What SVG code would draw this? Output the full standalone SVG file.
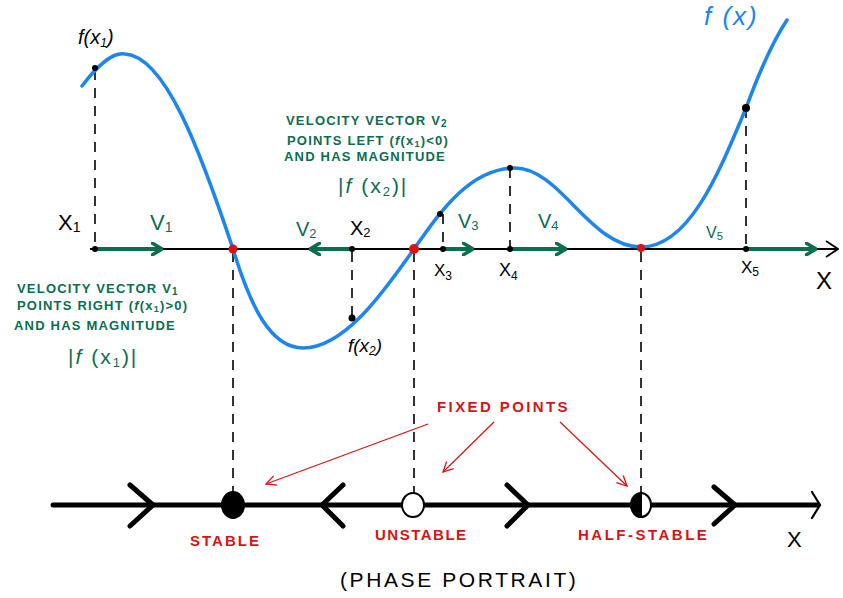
<svg xmlns="http://www.w3.org/2000/svg" width="843" height="598" viewBox="0 0 843 598">
<style>
text{font-family:"Liberation Sans",Arial,sans-serif}
.g{fill:#0b6e4f}
.gt{fill:#0b6e4f;font-size:13px;letter-spacing:1.2px;font-weight:bold}
.mag{fill:#0b6e4f;font-size:21px;letter-spacing:2px}
.k{fill:#000}
.r{fill:#d81414;font-size:15px;font-weight:bold}
.dash{stroke:#000;stroke-width:1.6;stroke-dasharray:10 8;fill:none}
.garr{stroke:#0b6e4f;stroke-width:4;fill:none}
.chev{stroke:#000;stroke-width:5;fill:none;stroke-linecap:round;stroke-linejoin:round}
.rarr{stroke:#d81414;stroke-width:1.2;fill:none}
</style>
<defs>
<marker id="gh" viewBox="0 0 12 14" refX="11" refY="7" markerWidth="12" markerHeight="14" markerUnits="userSpaceOnUse" orient="auto">
<path d="M1,1 L11,7 L1,13" fill="none" stroke="#0b6e4f" stroke-width="3.5" stroke-linecap="round"/>
</marker>
<marker id="rh" viewBox="0 0 12 12" refX="11" refY="6" markerWidth="12" markerHeight="12" markerUnits="userSpaceOnUse" orient="auto">
<path d="M1,1 L11,6 L1,11" fill="none" stroke="#d81414" stroke-width="1.3"/>
</marker>
<marker id="kh" viewBox="0 0 14 18" refX="13" refY="9" markerWidth="14" markerHeight="18" markerUnits="userSpaceOnUse" orient="auto">
<path d="M1,1 L13,9 L1,17" fill="none" stroke="#000" stroke-width="1.8"/>
</marker>
</defs>

<g id="connectors">
<!-- top axis -->
<line x1="90" y1="249" x2="838" y2="249" stroke="#000" stroke-width="2" marker-end="url(#kh)"/>
<!-- dashed projections -->
<line class="dash" x1="95" y1="70" x2="95" y2="249"/>
<line class="dash" x1="233" y1="252" x2="233" y2="495"/>
<line class="dash" x1="352" y1="252" x2="352" y2="318"/>
<line class="dash" x1="414" y1="252" x2="414" y2="495"/>
<line class="dash" x1="443" y1="214" x2="443" y2="249"/>
<line class="dash" x1="510" y1="168" x2="510" y2="249"/>
<line class="dash" x1="641" y1="252" x2="641" y2="495"/>
<line class="dash" x1="746" y1="108" x2="746" y2="249"/>
<!-- velocity arrows -->
<line class="garr" x1="95" y1="249" x2="162" y2="249" marker-end="url(#gh)"/>
<line class="garr" x1="352" y1="249" x2="310" y2="249" marker-end="url(#gh)"/>
<line class="garr" x1="443" y1="249" x2="473" y2="249" marker-end="url(#gh)"/>
<line class="garr" x1="510" y1="249" x2="566" y2="249" marker-end="url(#gh)"/>
<line class="garr" x1="746" y1="249" x2="816" y2="249" marker-end="url(#gh)"/>
<!-- fixed points pointers -->
<line class="rarr" x1="428" y1="424" x2="266" y2="484" marker-end="url(#rh)"/>
<line class="rarr" x1="494" y1="422" x2="443" y2="472" marker-end="url(#rh)"/>
<line class="rarr" x1="560" y1="422" x2="627" y2="486" marker-end="url(#rh)"/>
<!-- phase line -->
<line x1="53" y1="505" x2="818" y2="505" stroke="#000" stroke-width="5" stroke-linecap="round"/>
<path d="M812,492 L820,505 L812,518" fill="none" stroke="#000" stroke-width="2.2" stroke-linecap="round"/>
</g>

<g id="curve">
<path d="M82,86 C100,62 115,52 125,54 C165,56 200,150 233,249 C250,305 270,348 303,348 C345,348 385,290 414,249 C440,212 470,168 515,168 C560,168 590,247 641,247 C690,247 720,170 746,108 C760,70 775,38 787,20" fill="none" stroke="#1c86ee" stroke-width="3.5" stroke-linecap="round"/>
<text x="704" y="25" fill="#1c86ee" font-size="26" font-style="italic" letter-spacing="2">f (x)</text>
</g>

<g id="points">
<circle cx="95" cy="68" r="3"/>
<circle cx="95" cy="249" r="3"/>
<circle cx="352" cy="249" r="3"/>
<circle cx="352" cy="318" r="3.5"/>
<circle cx="440" cy="214" r="3"/>
<circle cx="443" cy="249" r="3"/>
<circle cx="510" cy="168" r="3"/>
<circle cx="510" cy="249" r="3"/>
<circle cx="746" cy="108" r="4"/>
<circle cx="746" cy="249" r="3"/>
<circle cx="233" cy="249" r="4.5" fill="#d81414"/>
<circle cx="414" cy="249" r="5" fill="#d81414"/>
<circle cx="641" cy="248" r="4" fill="#d81414"/>
</g>

<g id="labels-top">
<text x="78" y="44" font-size="20" class="k" font-style="italic">f(x<tspan font-size="12" dy="3">1</tspan><tspan dy="-3">)</tspan></text>
<text x="58" y="230" font-size="22" class="k">X<tspan font-size="14" dy="2">1</tspan></text>
<text x="150" y="230" font-size="22" class="g">V<tspan font-size="14" dy="2">1</tspan></text>
<text x="296" y="236" font-size="20" class="g">V<tspan font-size="13" dy="2">2</tspan></text>
<text x="350" y="235" font-size="20" class="k">X<tspan font-size="13" dy="2">2</tspan></text>
<text x="458" y="228" font-size="20" class="g">V<tspan font-size="13" dy="2">3</tspan></text>
<text x="538" y="228" font-size="20" class="g">V<tspan font-size="13" dy="2">4</tspan></text>
<text x="706" y="238" font-size="16" class="g">V<tspan font-size="11" dy="2">5</tspan></text>
<text x="434" y="276" font-size="17" class="k">X<tspan font-size="12" dy="4">3</tspan></text>
<text x="499" y="276" font-size="18" class="k">X<tspan font-size="12" dy="4">4</tspan></text>
<text x="741" y="273" font-size="17" class="k">X<tspan font-size="12" dy="3">5</tspan></text>
<text x="816" y="289" font-size="24" class="k">X</text>
<text x="348" y="352" font-size="19" class="k" font-style="italic">f(x<tspan font-size="12" dy="3">2</tspan><tspan dy="-3">)</tspan></text>
</g>

<g id="note-v2">
<text x="286" y="125" class="gt">VELOCITY VECTOR V<tspan font-size="10" dy="2">2</tspan></text>
<text x="287" y="145" class="gt">POINTS  LEFT (<tspan font-style="italic">f</tspan>(x<tspan font-size="9" dy="2">1</tspan><tspan dy="-2">)&lt;0)</tspan></text>
<text x="284" y="161" class="gt">AND HAS MAGNITUDE</text>
<text x="338" y="193" class="mag">|<tspan font-style="italic">f</tspan> (x<tspan font-size="13" dy="3">2</tspan><tspan dy="-3">)|</tspan></text>
</g>

<g id="note-v1">
<text x="17" y="293" class="gt">VELOCITY VECTOR V<tspan font-size="10" dy="2">1</tspan></text>
<text x="17" y="310" class="gt">POINTS  RIGHT (<tspan font-style="italic">f</tspan>(x<tspan font-size="9" dy="2">1</tspan><tspan dy="-2">)&gt;0)</tspan></text>
<text x="14" y="330" class="gt">AND HAS MAGNITUDE</text>
<text x="68" y="364" class="mag">|<tspan font-style="italic">f</tspan> (x<tspan font-size="13" dy="3">1</tspan><tspan dy="-3">)|</tspan></text>
</g>

<g id="phase-portrait">
<path class="chev" d="M130,485 L153,505 L130,526"/>
<path class="chev" d="M343,485 L322,505 L343,526"/>
<path class="chev" d="M507,485 L528,505 L507,526"/>
<path class="chev" d="M714,487 L735,505 L714,524"/>
<ellipse cx="233" cy="505" rx="11" ry="13" fill="#000" stroke="#000" stroke-width="2"/>
<ellipse cx="413" cy="505" rx="11" ry="12" fill="#fff" stroke="#000" stroke-width="2"/>
<g id="half-stable">
<ellipse cx="641" cy="505" rx="10" ry="12" fill="#fff" stroke="#000" stroke-width="2"/>
<path d="M641,493 A10,12 0 0 0 641,517 Z" fill="#000"/>
<line x1="641" y1="493" x2="641" y2="517" stroke="#000" stroke-width="2"/>
</g>
</g>

<g id="labels-bottom">
<text x="437" y="412" class="r" letter-spacing="2.4">FIXED POINTS</text>
<text x="190" y="546" class="r" letter-spacing="2">STABLE</text>
<text x="375" y="540" class="r" letter-spacing="1.5">UNSTABLE</text>
<text x="578" y="540" class="r" letter-spacing="2.5">HALF-STABLE</text>
<text x="787" y="547" font-size="22" class="k">X</text>
<text x="340" y="587" font-size="21" class="k" letter-spacing="2.6">(PHASE PORTRAIT)</text>
</g>
</svg>
